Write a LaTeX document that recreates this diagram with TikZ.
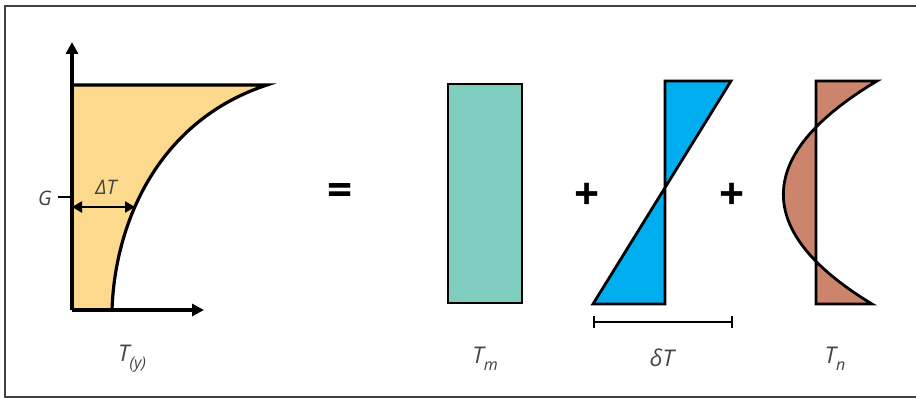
\documentclass[tikz,border=0pt]{standalone}
\usepackage{fontspec}
\setmainfont{Open Sans}
\usetikzlibrary{arrows.meta}
\definecolor{sand}{HTML}{FDD98E}
\definecolor{teal}{HTML}{7FCDBF}
\definecolor{cyanb}{HTML}{00AEEF}
\definecolor{clay}{HTML}{CD846D}
\definecolor{labgray}{HTML}{444444}
\tikzset{
  lab/.style={text=labgray, font=\fontsize{23}{23}\selectfont\itshape, inner sep=0pt},
  smalllab/.style={text=labgray, font=\fontsize{20}{20}\selectfont\itshape, inner sep=0pt},
  op/.style={font=\fontsize{44}{44}\selectfont\bfseries, inner sep=0pt},
  thick line/.style={line width=3.2pt, line join=miter},
  axis arrow/.style={line width=3.2pt, -{Triangle[length=12pt,width=12pt]}},
  frame line/.style={line width=1.4pt, draw=black!75},
}
\newcommand{\sub}[1]{\raisebox{-0.32em}{\fontsize{16}{16}\selectfont #1}}
\begin{document}
\begin{tikzpicture}[x=1pt,y=-1pt]
\useasboundingbox (0,0) rectangle (916,398);
% frame
\coordinate (f1) at (916,6); \coordinate (f2) at (5,6);
\coordinate (f3) at (5,397); \coordinate (f4) at (916,397);
\draw[frame line] (f1) -- (f2) -- (f3) -- (f4);

% ---------- left diagram ----------
\coordinate (o) at (72,310);
\coordinate (ytop) at (72,42);
\coordinate (xend) at (204,310);
\coordinate (tl) at (72,85);
\coordinate (tr) at (267,85);
\coordinate (cb) at (112,310);
\fill[sand] (tl) -- (tr) .. controls (160,120) and (115,220) .. (cb) -- (o) -- cycle;
\draw[thick line] (tl) -- (tr) .. controls (160,120) and (115,220) .. (cb);
\draw[axis arrow] (o) -- (ytop);
\draw[axis arrow] (o) -- (xend);
% G tick
\coordinate (g1) at (58,197);
\coordinate (g2) at (72,197);
\draw[line width=2.8pt] (g1) -- (g2);
\node[smalllab, anchor=east] (G) at (52,198) {G};
% Delta T arrow
\coordinate (d1) at (72,207);
\coordinate (d2) at (135,207);
\draw[line width=2.8pt, {Triangle[length=10pt,width=11pt]}-{Triangle[length=10pt,width=11pt]}] (d1) -- (d2);
\node[smalllab] (DT) at (106,187) {ΔT};
\node[lab] (Ty) at (132,359) {T\sub{(y)}};

% equals
\node[op] (eq) at (340,195) {=};

% ---------- Tm ----------
\fill[teal] (448,84) rectangle (522,303);
\draw[line width=2.6pt] (448,84) rectangle (522,303);
\node[lab] (Tm) at (485,359) {T\sub{m}};

% plus 1
\node[op] (p1) at (587,196) {+};

% ---------- delta T ----------
\coordinate (bt) at (665,81);
\coordinate (btr) at (731,81);
\coordinate (bbl) at (593,304);
\coordinate (bb) at (665,304);
\fill[cyanb] (bt) -- (btr) -- (bbl) -- (bb) -- cycle;
\draw[line width=2.8pt, line join=miter] (bt) -- (btr) -- (bbl) -- (bb) -- cycle;
% scale bar
\coordinate (s1) at (594,322);
\coordinate (s2) at (732,322);
\draw[line width=2.6pt] (s1) -- (s2);
\draw[line width=2.6pt] ([yshift=-6pt]s1) -- ([yshift=6pt]s1);
\draw[line width=2.6pt] ([yshift=-6pt]s2) -- ([yshift=6pt]s2);
\node[lab] (dT) at (662,358) {δT};

% plus 2
\node[op] (p2) at (732,196) {+};

% ---------- Tn ----------
\coordinate (nt) at (816,81);
\coordinate (ntr) at (877,81);
\coordinate (nbr) at (872,304);
\coordinate (nb) at (816,304);
\fill[clay] (nb) -- (nt) -- (ntr) .. controls (753,155) and (753,232) .. (nbr) -- cycle;
\draw[line width=2.8pt, line join=miter] (nb) -- (nt) -- (ntr) .. controls (753,155) and (753,232) .. (nbr) -- cycle;
\node[lab] (Tn) at (835,359) {T\sub{n}};
\end{tikzpicture}
\end{document}
